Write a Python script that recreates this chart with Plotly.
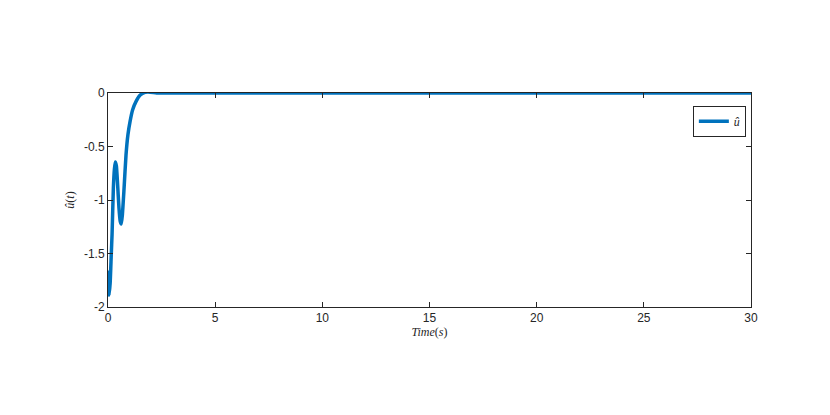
import plotly.graph_objects as go

# control signal samples
time_s = [0, 0.02, 0.05, 0.1, 0.15, 0.19, 0.25, 0.3, 0.34, 0.39, 0.45, 0.51, 0.57, 0.62, 0.67,
          0.75, 0.84, 0.93, 1.03, 1.15, 1.31, 1.49, 1.73, 1.96, 2.27, 3.0, 5, 10, 20, 30]
u_hat = [-1.66, -1.8, -1.89, -1.78, -1.52, -1.32, -0.89, -0.71, -0.645, -0.68, -0.86, -1.07, -1.2, -1.224, -1.14,
         -0.89, -0.58, -0.39, -0.265, -0.156, -0.078, -0.022, 0.006, 0.008, 0.0, 0.0, 0.0, 0.0, 0.0, 0.0]

x_ticks = [0, 5, 10, 15, 20, 25, 30]
y_ticks = [0, -0.5, -1, -1.5, -2]

fig = go.Figure()

fig.add_trace(
    go.Scatter(
        x=time_s,
        y=u_hat,
        mode='lines',
        line={'color': "#0072BD", 'width': 3.5, 'shape': 'spline', 'smoothing': 0.5},
        name="<i>û</i>",
    )
)

axis_common = dict(
    showgrid=False,
    zeroline=False,
    showline=True,
    linecolor="#262626",
    linewidth=1,
    mirror='ticks',
    ticks='inside',
    ticklen=5,
    tickcolor="#262626",
    tickfont={'size': 12, 'color': "#262626"},
)

# page body adds an 8px offset, so the figure is sized to compensate
fig.update_layout(
    width=822,
    height=407,
    paper_bgcolor="white",
    plot_bgcolor="white",
    font={'family': "Liberation Sans, Arial", 'size': 12, 'color': "#262626"},
    margin={'l': 100, 'r': 79, 't': 85, 'b': 108},
    xaxis=dict(axis_common, range=[0, 30], tickvals=x_ticks,
               title={'text': "<i>Time</i>(<i>s</i>)", 'font': {'family': "Liberation Serif", 'size': 12}, 'standoff': 2}),
    yaxis=dict(axis_common, range=[-2, 0], tickvals=y_ticks, ticktext=[str(v) for v in y_ticks],
               title={'text': "<i>û</i>(<i>t</i>)", 'font': {'family': "Liberation Serif", 'size': 12}, 'standoff': 6}),
    showlegend=True,
    legend={'x': 0.992, 'y': 0.94, 'xanchor': 'right', 'yanchor': 'top',
            'bordercolor': "#262626", 'borderwidth': 1, 'bgcolor': "white",
            'itemwidth': 30, 'tracegroupgap': 0,
            'font': {'family': "Liberation Serif", 'size': 12}},
)

fig.write_html("out.html")
